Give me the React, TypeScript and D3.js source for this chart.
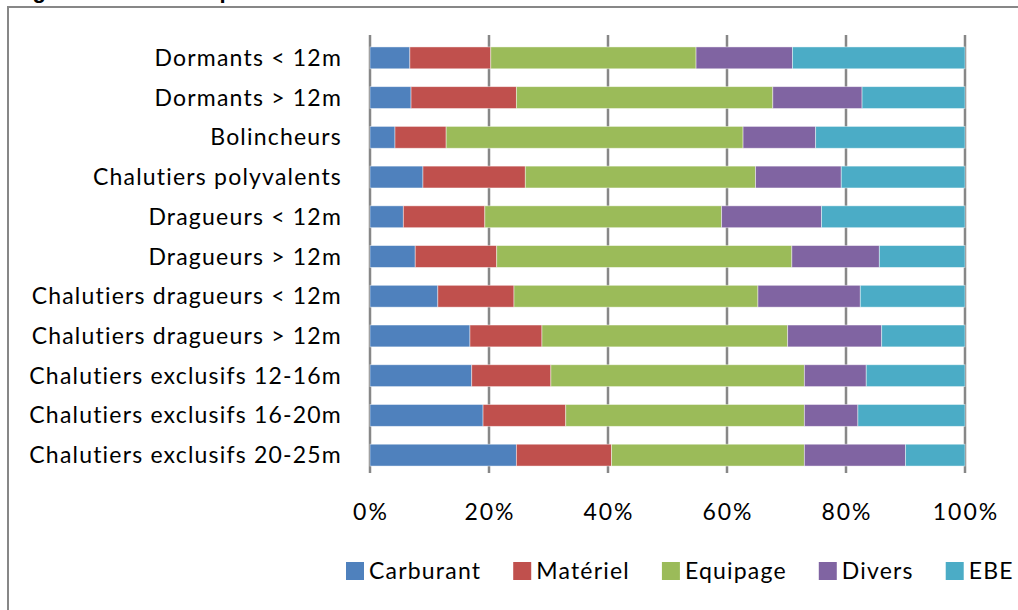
import React, { useEffect, useRef } from "react";
import * as d3 from "d3";

const categories = [
  "Dormants < 12m",
  "Dormants > 12m",
  "Bolincheurs",
  "Chalutiers polyvalents",
  "Dragueurs < 12m",
  "Dragueurs > 12m",
  "Chalutiers dragueurs < 12m",
  "Chalutiers dragueurs > 12m",
  "Chalutiers exclusifs 12-16m",
  "Chalutiers exclusifs 16-20m",
  "Chalutiers exclusifs 20-25m",
];
const seriesNames = ["Carburant", "Matériel", "Equipage", "Divers", "EBE"];
const carburant = [6.7, 6.9, 4.2, 8.9, 5.6, 7.6, 11.4, 16.8, 17.1, 19.0, 24.6];
const materiel = [13.6, 17.7, 8.6, 17.2, 13.7, 13.7, 12.8, 12.1, 13.3, 13.9, 16.0];
const equipage = [34.5, 43.1, 49.9, 38.7, 39.8, 49.6, 41.0, 41.3, 42.6, 40.1, 32.4];
const divers = [16.2, 15.0, 12.2, 14.4, 16.8, 14.7, 17.2, 15.8, 10.4, 9.0, 17.0];
const ebe = [29.0, 17.3, 25.1, 20.8, 24.1, 14.4, 17.6, 14.0, 16.6, 18.0, 10.0];
const tickValues = [0, 20, 40, 60, 80, 100];
const colors = ["#4F81BD", "#C0504D", "#9BBB59", "#8064A2", "#4BACC6"];
const title = "Figure 14 : Les composantes du chiffre d'affaires des flottilles";

const FONT = "Lato, 'Open Sans', sans-serif";

export default function App() {
  const ref = useRef<SVGSVGElement | null>(null);

  useEffect(() => {
    const svg = d3.select(ref.current);
    svg.selectAll("*").remove();

    const seriesValues = [carburant, materiel, equipage, divers, ebe];
    const rows = categories.map((c, i) => {
      const r: any = { cat: c };
      seriesNames.forEach((s, k) => (r[s] = seriesValues[k][i]));
      return r;
    });
    const stacked = d3.stack().keys(seriesNames)(rows);

    const x = d3.scaleLinear().domain([0, 100]).range([370, 965]);
    const y = d3
      .scaleBand()
      .domain(categories)
      .range([38, 475])
      .paddingInner(0.45)
      .paddingOuter(0.225);

    // outer frame
    svg
      .append("rect")
      .attr("x", 8)
      .attr("y", 7)
      .attr("width", 1040)
      .attr("height", 640)
      .attr("fill", "white")
      .attr("stroke", "#878787")
      .attr("stroke-width", 2);

    // title (cropped at the top, as in the reference)
    svg
      .append("text")
      .attr("x", 13)
      .attr("y", -2)
      .attr("font-family", "'Liberation Sans', Arial, sans-serif")
      .attr("font-weight", "bold")
      .attr("font-size", 22)
      .attr("fill", "#000")
      .text(title);

    // gridlines + ticks
    svg
      .append("g")
      .selectAll("line")
      .data(tickValues)
      .join("line")
      .attr("x1", (d) => x(d))
      .attr("x2", (d) => x(d))
      .attr("y1", 35)
      .attr("y2", 473)
      .attr("stroke", "#878787")
      .attr("stroke-width", 2.5);

    // bars
    const g = svg.append("g");
    stacked.forEach((layer, k) => {
      g.append("g")
        .attr("fill", colors[k])
        .selectAll("rect")
        .data(layer)
        .join("rect")
        .attr("x", (d: any) => x(d[0]))
        .attr("width", (d: any) => x(d[1]) - x(d[0]))
        .attr("y", (d: any) => y(d.data.cat) as number)
        .attr("height", y.bandwidth())
        .attr("stroke", "rgba(255,255,255,0.55)")
        .attr("stroke-width", 0.8);
    });

    // category labels
    svg
      .append("g")
      .selectAll("text")
      .data(categories)
      .join("text")
      .attr("x", 342)
      .attr("y", (d) => (y(d) as number) + y.bandwidth() / 2 + 8)
      .attr("text-anchor", "end")
      .attr("font-family", FONT)
      .attr("font-size", 23)
      .attr("letter-spacing", 1.2)
      .attr("fill", "#000")
      .text((d) => d);

    // tick labels
    svg
      .append("g")
      .selectAll("text")
      .data(tickValues)
      .join("text")
      .attr("x", (d) => x(d) + 1)
      .attr("y", 520)
      .attr("text-anchor", "middle")
      .attr("font-family", FONT)
      .attr("font-size", 23)
      .attr("letter-spacing", 2)
      .attr("fill", "#000")
      .text((d) => `${d}%`);

    // legend
    const leg = svg.append("g");
    let cx = 346;
    seriesNames.forEach((name, k) => {
      leg
        .append("rect")
        .attr("x", cx)
        .attr("y", 562)
        .attr("width", 18)
        .attr("height", 18)
        .attr("fill", colors[k]);
      const t = leg
        .append("text")
        .attr("x", cx + 23)
        .attr("y", 579)
        .attr("font-family", FONT)
        .attr("font-size", 23)
        .attr("letter-spacing", 1.2)
        .attr("fill", "#000")
        .text(name);
      const w = (t.node() as SVGTextElement).getComputedTextLength();
      cx = cx + 23 + w + 32;
    });
  }, []);

  return (
    <svg
      ref={ref}
      width={1018}
      height={610}
      style={{ position: "absolute", left: 0, top: 0, background: "white" }}
    />
  );
}
